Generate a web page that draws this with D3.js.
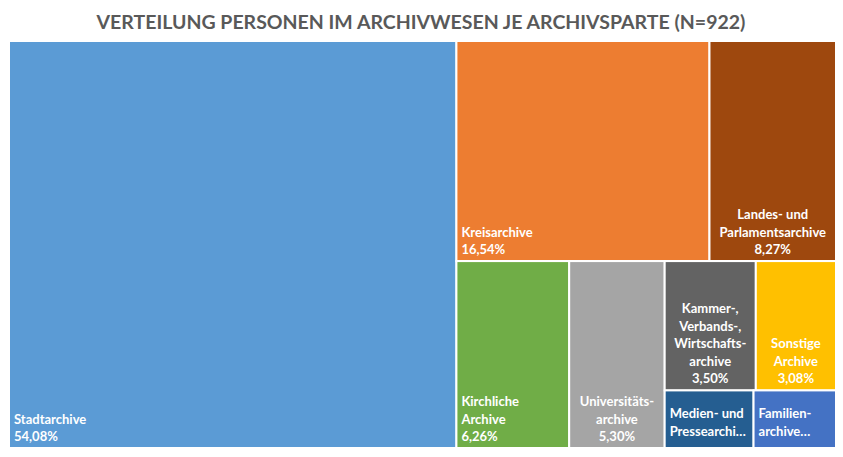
<!DOCTYPE html><html><head><meta charset="utf-8">
<script src="https://cdn.jsdelivr.net/npm/d3@7"></script>
<style>body{margin:0;background:#fff}text{font-family:Lato,"Open Sans",sans-serif}</style></head><body>
<svg id="c" width="843" height="457"></svg>
<script>
const title = "VERTEILUNG PERSONEN IM ARCHIVWESEN JE ARCHIVSPARTE (N=922)";
const names = ["Stadtarchive","Kreisarchive","Landes- und Parlamentsarchive","Kirchliche Archive","Universitätsarchive","Kammer-, Verbands-, Wirtschaftsarchive","Sonstige Archive","Medien- und Pressearchive","Familienarchive"];
const values = [54.08,16.54,8.27,6.26,5.30,3.50,3.08,1.52,1.41];
const labels = [["Stadtarchive"],["Kreisarchive"],["Landes- und","Parlamentsarchive"],["Kirchliche","Archive"],["Universitäts-","archive"],["Kammer-,","Verbands-,","Wirtschafts-","archive"],["Sonstige","Archive"],["Medien- und","Pressearchi…"],["Familien-","archive…"]];
const showPct = [true,true,true,true,true,true,true,false,false];
const colors = ["#5B9BD5","#ED7D31","#9E480E","#70AD47","#A5A5A5","#636363","#FFC000","#255E91","#4472C4"];
const align = ["start","start","middle","start","middle","middle","middle","start","start"];
// grouping structure (Excel-like layout)
const tree = {children:[{i:0},{children:[{children:[{i:1},{i:2}]},{children:[{i:3},{i:4},{children:[{children:[{i:5},{i:6}]},{children:[{i:7},{i:8}]}]}]}]}]};
const svg = d3.select("#c");
svg.append("text").attr("x",421).attr("y",29).attr("text-anchor","middle").attr("font-size",19.5).attr("font-weight","bold").attr("fill","#595959").text(title);
const root = d3.hierarchy(tree).sum(d=>d.i!==undefined?values[d.i]:0);
const tile = (node,x0,y0,x1,y1)=> (node.depth%2===0?d3.treemapDice:d3.treemapSlice)(node,x0,y0,x1,y1);
d3.treemap().tile(tile).size([827,407]).paddingInner(0).round(false)(root);
const g = svg.append("g").attr("transform","translate(9,41)");
const fmt = v=>v.toFixed(2).replace(".",",")+"%";
root.leaves().forEach(l=>{
  const i=l.data.i;
  g.append("rect").attr("x",l.x0).attr("y",l.y0).attr("width",l.x1-l.x0).attr("height",l.y1-l.y0).attr("fill",colors[i]).attr("stroke","#fff").attr("stroke-width",2);
  const lines = labels[i].concat(showPct[i]?[fmt(values[i])]:[]);
  const lh=17.5;
  const tx = align[i]==="middle"?(l.x0+l.x1)/2:l.x0+5;
  const lastY = (i>=7)? l.y0+28+ (lines.length-1)*lh : l.y1-7;
  lines.forEach((s,k)=>{
    g.append("text").attr("x",tx).attr("y",lastY-(lines.length-1-k)*lh).attr("text-anchor",align[i]).attr("font-size",13).attr("font-weight","bold").attr("fill","#fff").text(s);
  });
});
</script></body></html>
